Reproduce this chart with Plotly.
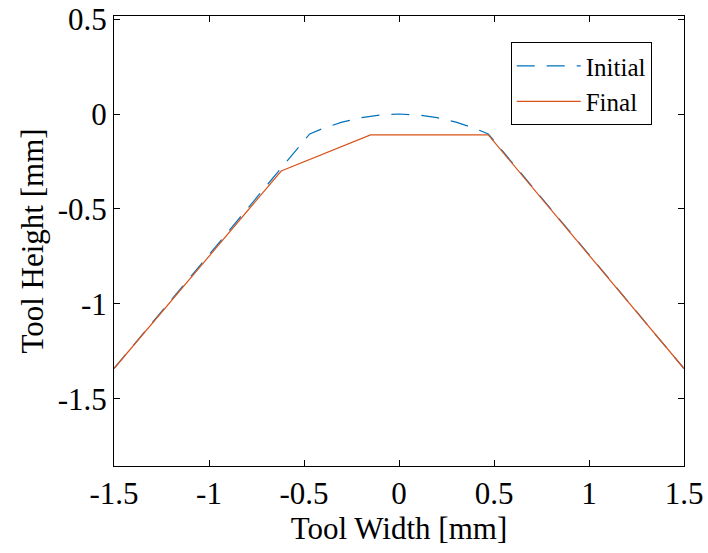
import plotly.graph_objects as go

# Data
init_x = [-1.5, -0.47, -0.4, -0.3, -0.2, -0.1, 0.0, 0.1, 0.2, 0.3, 0.4, 0.47, 1.5]
init_y = [-1.34, -0.105, -0.076, -0.043, -0.019, -0.005, 0.0, -0.005, -0.019, -0.043, -0.076, -0.105, -1.34]

final_x = [-1.5, -0.62, -0.15, 0.47, 1.5]
final_y = [-1.34, -0.30, -0.11, -0.11, -1.34]

xticks = [-1.5, -1, -0.5, 0, 0.5, 1, 1.5]
xticktext = ["-1.5", "-1", "-0.5", "0", "0.5", "1", "1.5"]
yticks = [-1.5, -1, -0.5, 0, 0.5]
yticktext = ["-1.5", "-1", "-0.5", "0", "0.5"]

FONT = "Liberation Serif"
FS = 31

fig = go.Figure()
fig.add_trace(go.Scatter(x=init_x, y=init_y, mode="lines", name="Initial",
                         line=dict(color="#0072BD", width=1.2, dash="18px,12px")))
fig.add_trace(go.Scatter(x=final_x, y=final_y, mode="lines", name="Final",
                         line=dict(color="#D95319", width=1.2)))

axis_common = dict(showgrid=False, zeroline=False, showline=True, linecolor="black",
                   linewidth=1, mirror="ticks", ticks="inside", ticklen=6,
                   tickcolor="black", tickwidth=1, automargin=False,
                   tickfont=dict(family=FONT, size=FS, color="black"))

fig.update_xaxes(range=[-1.5, 1.5], tickvals=xticks, ticktext=xticktext,
                 title=dict(text="Tool Width [mm]", font=dict(family=FONT, size=FS, color="black"), standoff=0),
                 **axis_common)
fig.update_yaxes(range=[-1.853, 0.516], tickvals=yticks, ticktext=yticktext,
                 title=dict(text="Tool Height [mm]", font=dict(family=FONT, size=FS, color="black"), standoff=4),
                 **axis_common)

fig.update_layout(
    width=708, height=553,
    margin=dict(l=114, r=24, t=16, b=87),
    paper_bgcolor="white", plot_bgcolor="white",
    showlegend=True,
    legend=dict(x=0.696, y=0.942, xanchor="left", yanchor="top",
                bgcolor="white", bordercolor="black", borderwidth=1,
                font=dict(family=FONT, size=25, color="black"),
                itemwidth=64, tracegroupgap=0),
)

fig.write_html("out.html")
